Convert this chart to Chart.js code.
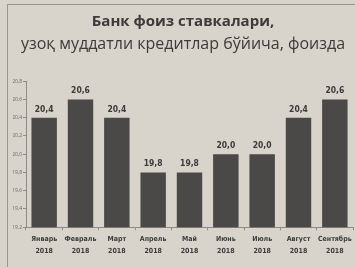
<!DOCTYPE html>
<html>
<head>
<meta charset="utf-8">
<script src="https://cdn.jsdelivr.net/npm/chart.js@4/dist/chart.umd.min.js"></script>
<style>
  body { margin: 0; background: #d8d4cc; }
  #wrap { position: relative; width: 355px; height: 267px; }
  #frame { position: absolute; left: 7px; top: 4px; right: 0; bottom: 0;
           border-left: 1px solid #9a968e; border-top: 1px solid #9a968e; }
  canvas { position: absolute; left: 0; top: 0; }
</style>
</head>
<body>
<div id="wrap">
  <div id="frame"></div>
  <canvas id="chart" width="355" height="267"></canvas>
</div>
<script>
"use strict";

var months = ["Январь", "Февраль", "Март", "Апрель", "Май", "Июнь", "Июль", "Август", "Сентябрь"];
var years = ["2018", "2018", "2018", "2018", "2018", "2018", "2018", "2018", "2018"];
var rates = [20.4, 20.6, 20.4, 19.8, 19.8, 20.0, 20.0, 20.4, 20.6];

var ink = "#3c3b39";
var narrow = "'DejaVu Sans Condensed', 'Liberation Sans Narrow', sans-serif";

function comma(v) {
  return v.toFixed(1).replace(".", ",");
}

// value labels above the bars
var bar_labels = {
  id: "bar_labels",
  afterDatasetsDraw: function(chart) {
    var ctx = chart.ctx;
    var meta = chart.getDatasetMeta(0);
    ctx.save();
    ctx.font = "bold 8.5px " + narrow;
    ctx.fillStyle = ink;
    ctx.textAlign = "center";
    ctx.textBaseline = "bottom";
    meta.data.forEach(function(bar, i) {
      ctx.fillText(comma(rates[i]), bar.x, bar.y - 4);
    });
    ctx.restore();
  }
};

new Chart(document.getElementById("chart"), {
  type: "bar",
  data: {
    labels: months.map(function(m, i) { return [m, years[i]]; }),
    datasets: [{
      data: rates,
      backgroundColor: "#4a4947",
      categoryPercentage: 0.7,
      barPercentage: 1.0
    }]
  },
  options: {
    responsive: false,
    animation: false,
    layout: { padding: { left: 13, right: 2, top: 13, bottom: 7 } },
    plugins: {
      legend: { display: false },
      tooltip: { enabled: false },
      title: {
        display: true,
        text: "Банк фоиз ставкалари,",
        color: ink,
        font: { family: "'Open Sans'", size: 15, weight: "bold" },
        padding: { top: 0, bottom: 4 }
      },
      subtitle: {
        display: true,
        text: "узоқ муддатли кредитлар бўйича, фоизда",
        color: ink,
        font: { family: "'Open Sans'", size: 16 },
        padding: { top: 0, bottom: 27 }
      }
    },
    scales: {
      x: {
        grid: { display: true, drawOnChartArea: false, tickLength: 3, color: "#8e8a84" },
        border: { color: "#8e8a84" },
        ticks: {
          color: ink,
          padding: 3,
          autoSkip: false,
          font: { family: narrow, size: 7, weight: "bold", lineHeight: 1.7 },
          maxRotation: 0
        }
      },
      y: {
        min: 19.2,
        max: 20.8,
        afterFit: function(scale) { scale.width = 13; },
        grid: { display: true, drawOnChartArea: false, tickLength: 3, color: "#8e8a84" },
        border: { color: "#8e8a84" },
        ticks: {
          stepSize: 0.2,
          color: "#6a6762",
          padding: 1,
          font: { family: "'Open Sans'", size: 5 },
          callback: function(v) { return comma(v); }
        }
      }
    }
  },
  plugins: [bar_labels]
});
</script>
</body>
</html>
